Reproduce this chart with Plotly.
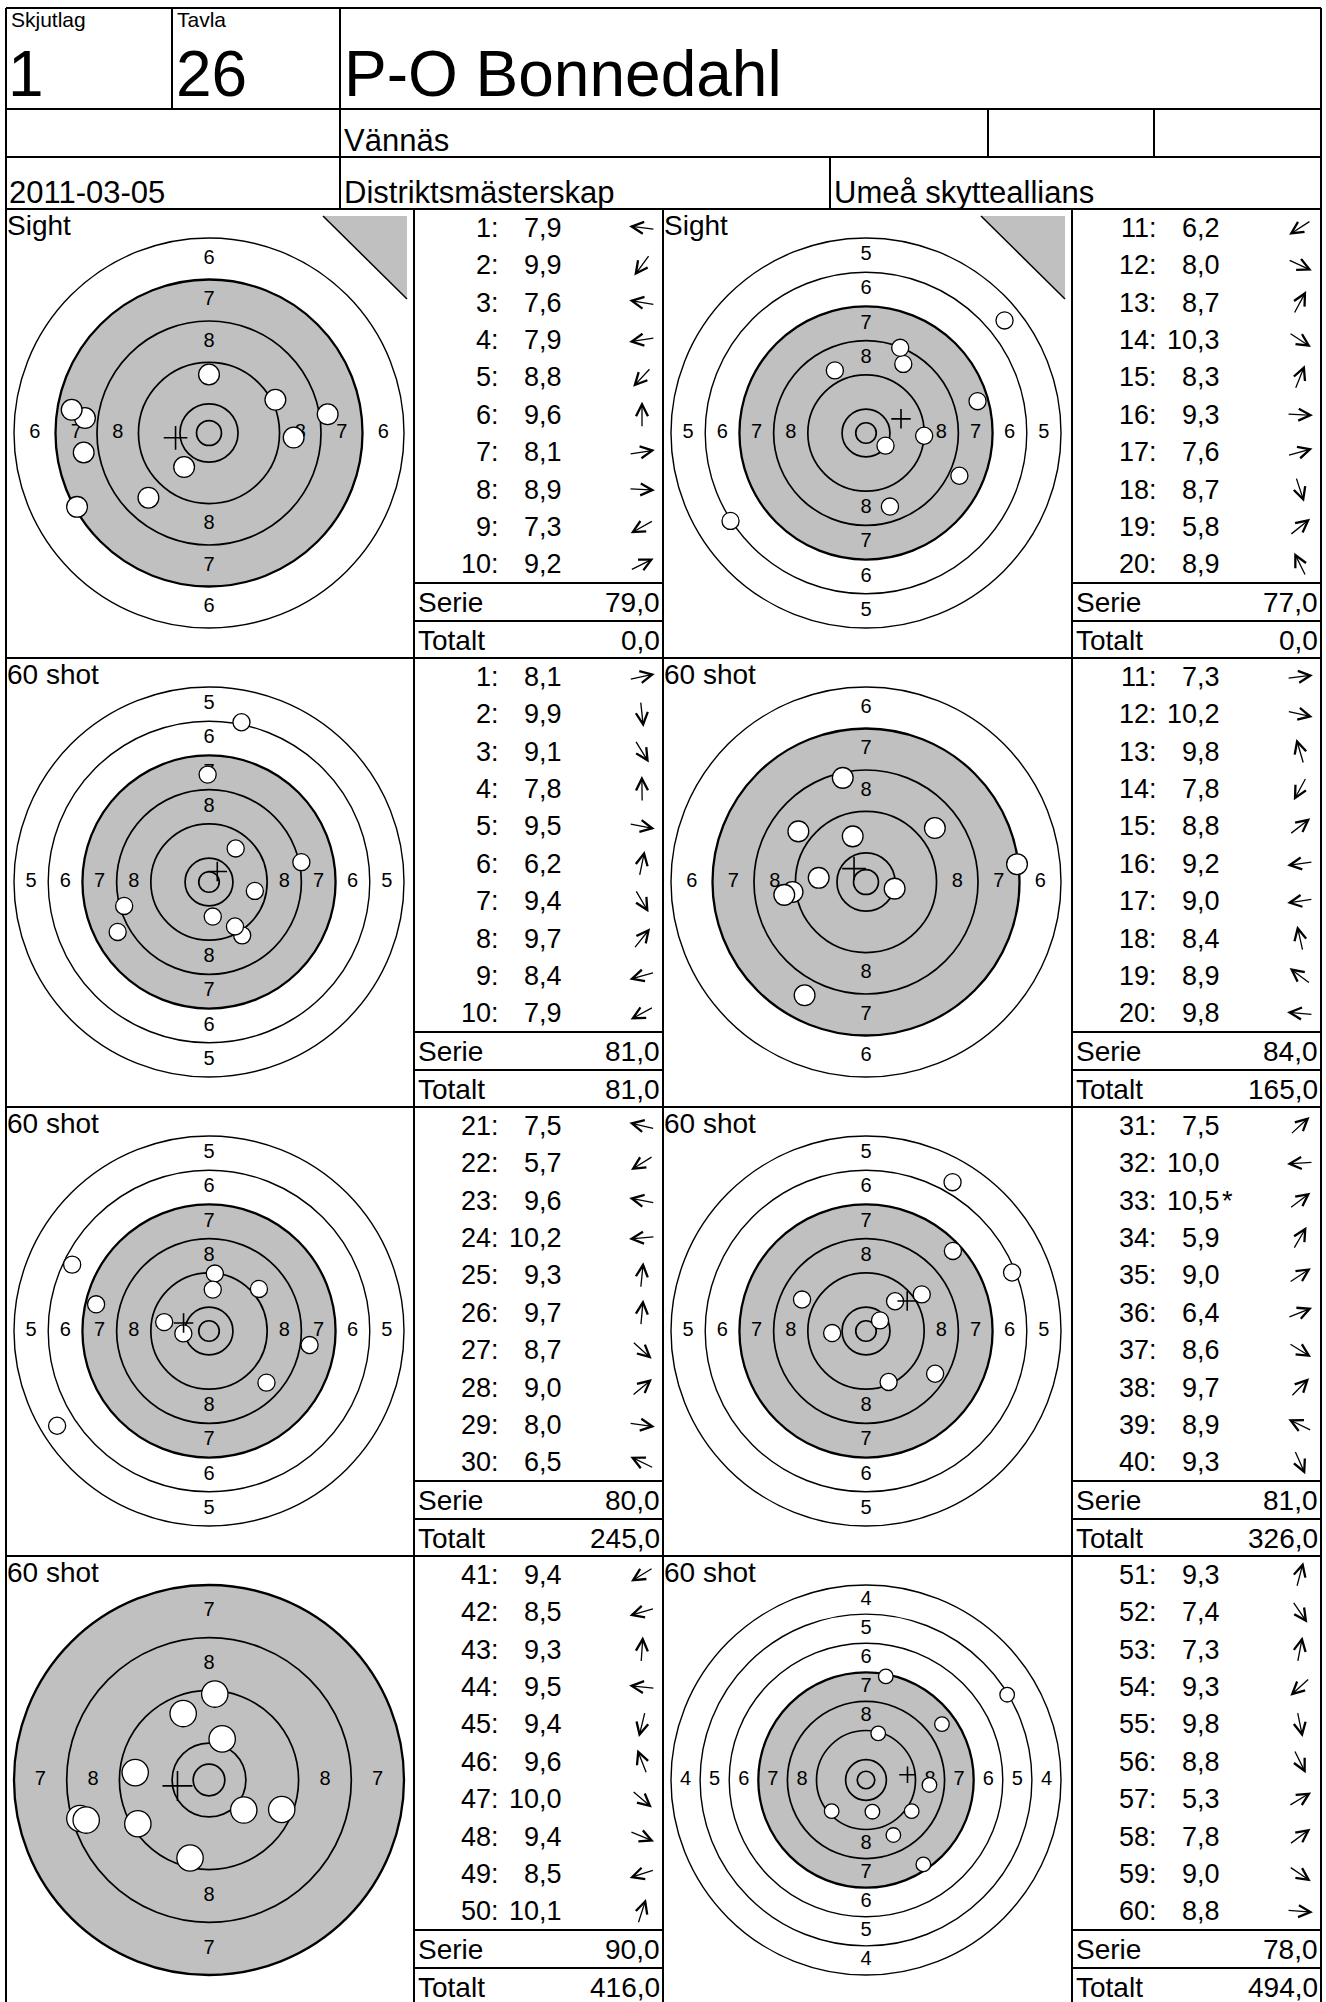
import math
import plotly.graph_objects as go

W, H = 1326, 2002
FONT = "Liberation Sans, Arial, Helvetica, sans-serif"
GRAY = "#c0c0c0"

# ---------------- data ----------------
header_small_labels = ["Skjutlag", "Tavla"]
shooting_group = "1"
target_lane = "26"
shooter_name = "P-O Bonnedahl"
shooter_town = "Vännäs"
match_date = "2011-03-05"
competition = "Distriktsmästerskap"
club_name = "Umeå skytteallians"

series_titles = ["Sight", "Sight", "60 shot", "60 shot", "60 shot", "60 shot", "60 shot", "60 shot"]
series_first_shot = [1, 11, 1, 11, 21, 31, 41, 51]
series_lowest_ring = [6, 5, 5, 6, 5, 5, 7, 4]
series_counts = [False, False, True, True, True, True, True, True]

scores_s1 = [7.9, 9.9, 7.6, 7.9, 8.8, 9.6, 8.1, 8.9, 7.3, 9.2]
scores_s2 = [6.2, 8.0, 8.7, 10.3, 8.3, 9.3, 7.6, 8.7, 5.8, 8.9]
scores_s3 = [8.1, 9.9, 9.1, 7.8, 9.5, 6.2, 9.4, 9.7, 8.4, 7.9]
scores_s4 = [7.3, 10.2, 9.8, 7.8, 8.8, 9.2, 9.0, 8.4, 8.9, 9.8]
scores_s5 = [7.5, 5.7, 9.6, 10.2, 9.3, 9.7, 8.7, 9.0, 8.0, 6.5]
scores_s6 = [7.5, 10.0, 10.5, 5.9, 9.0, 6.4, 8.6, 9.7, 8.9, 9.3]
scores_s7 = [9.4, 8.5, 9.3, 9.5, 9.4, 9.6, 10.0, 9.4, 8.5, 10.1]
scores_s8 = [9.3, 7.4, 7.3, 9.3, 9.8, 8.8, 5.3, 7.8, 9.0, 8.8]
inner_ten = [(5, 2)]  # (series index, shot index) marked with *

# shot positions in ring units (x right, y up), in shot order
x_s1 = [-2.99, -0.60, -3.31, -3.02, -1.46, 0.00, 2.86, 2.04, -3.18, 1.60]
y_s1 = [0.36, -0.82, 0.56, -0.47, -1.56, 1.41, 0.45, -0.11, -1.78, 0.80]
x_s2 = [-3.96, 2.73, 1.09, 0.57, 1.00, 1.70, 3.26, 0.70, 4.05, -0.91]
y_s2 = [-2.57, -1.25, 2.02, -0.37, 2.49, -0.08, 0.93, -2.15, 3.29, 1.83]
x_s3 = [2.70, 0.11, 0.97, -0.04, 1.34, 0.95, 0.76, 0.78, -2.48, -2.67]
y_s3 = [0.58, -1.01, -1.56, 3.14, -0.26, 4.67, -1.30, 0.98, -0.70, -1.46]
x_s4 = [3.64, 0.69, -0.32, -1.48, 1.66, -1.77, -1.97, -0.56, -1.63, -1.14]
y_s4 = [0.43, -0.16, 1.10, -2.73, 1.30, -0.24, -0.31, 2.51, 1.22, 0.10]
x_s5 = [-3.30, -4.44, -1.31, -0.75, 0.17, 0.11, 1.68, 1.46, 2.94, -4.00]
y_s5 = [0.78, -2.77, 0.26, -0.07, 1.68, 1.21, -1.51, 1.23, -0.41, 1.94]
x_s6 = [2.54, -0.99, 0.41, 2.53, 1.63, 4.27, 2.02, 0.85, -1.87, 0.66]
y_s6 = [2.34, -0.06, 0.31, 4.35, 1.07, 1.71, -1.25, 0.87, 0.92, -1.49]
x_s7 = [-1.35, -2.45, 0.11, -1.40, -0.36, -0.49, 0.66, 1.38, -2.33, 0.25]
y_s7 = [-0.83, -0.73, 1.63, 0.14, -1.48, 1.26, -0.57, -0.56, -0.76, 0.78]
x_s8 = [0.42, 1.97, 0.68, -1.18, 0.22, 0.94, 4.85, 2.61, 1.57, 2.18]
y_s8 = [1.60, -2.90, 3.56, -1.07, -1.09, -1.89, 2.93, 1.92, -1.07, -0.17]

all_scores = [scores_s1, scores_s2, scores_s3, scores_s4, scores_s5, scores_s6, scores_s7, scores_s8]
all_x = [x_s1, x_s2, x_s3, x_s4, x_s5, x_s6, x_s7, x_s8]
all_y = [y_s1, y_s2, y_s3, y_s4, y_s5, y_s6, y_s7, y_s8]

# ---------------- layout constants ----------------
LEFT, RIGHT, TOP = 6, 1321, 8
ROW1_B, ROW2_B = 109, 157
panel_tops = [209, 658, 1107, 1556]
panel_lefts = [6, 663]
table_lefts = [414, 1072]
table_rights = [663, 1321]
target_cx = [209, 866]
TARGET_DY = 224
R_PX = 195.0
HS = 206.0
RING_EDGE = 10.7   # ring n outer edge radius = RING_EDGE - n
HOLE_D = 0.5
CROSS_W = 0.57
ROW_H = 37.4
ARROW_L = 26


def fmt(v):
    return f"{v:.1f}".replace(".", ",")


fig = go.Figure()
shapes = []
annotations = []
layout_axes = {}

layout_axes["xaxis"] = dict(domain=[0, 1], range=[0, W], visible=False, fixedrange=True)
layout_axes["yaxis"] = dict(domain=[0, 1], range=[H, 0], visible=False, fixedrange=True)
fig.add_trace(go.Scatter(x=[0], y=[0], mode="markers", marker=dict(opacity=0),
                         hoverinfo="skip", showlegend=False, xaxis="x", yaxis="y"))


def text(x, y, s, size, xanchor="left"):
    annotations.append(dict(x=x, y=y, xref="x", yref="y", text=s, showarrow=False,
                            xanchor=xanchor, yanchor="middle", borderpad=0,
                            font=dict(family=FONT, size=size, color="black")))


def line(x0, y0, x1, y1, w=2.0):
    shapes.append(dict(type="line", xref="x", yref="y", x0=x0, y0=y0, x1=x1, y1=y1,
                       line=dict(color="black", width=w), layer="above"))


# ---------------- grid ----------------
for yy in [TOP, ROW1_B, ROW2_B] + panel_tops:
    line(LEFT, yy, RIGHT, yy)
line(LEFT, TOP, LEFT, H + 5)
line(RIGHT, TOP, RIGHT, H + 5)
line(172, TOP, 172, ROW1_B)
line(340, TOP, 340, panel_tops[0])
line(988, ROW1_B, 988, ROW2_B)
line(1154, ROW1_B, 1154, ROW2_B)
line(830, ROW2_B, 830, panel_tops[0])
for xx in table_lefts + [663]:
    line(xx, panel_tops[0], xx, H + 5)
for pt in panel_tops:
    for c in range(2):
        line(table_lefts[c], pt + 374, table_rights[c], pt + 374)
        line(table_lefts[c], pt + 412, table_rights[c], pt + 412)

# ---------------- header texts ----------------
text(10, 19, header_small_labels[0], 21)
text(176, 19, header_small_labels[1], 21)
text(7, 74, shooting_group, 64)
text(175, 74, target_lane, 64)
text(343, 74, shooter_name, 64)
text(343, 140, shooter_town, 31)
text(8, 192, match_date, 31)
text(343, 192, competition, 31)
text(833, 192, club_name, 31)

# ---------------- panels ----------------
running = 0
for idx in range(8):
    row, col = idx // 2, idx % 2
    pt = panel_tops[row]
    cx = target_cx[col]
    cy = pt + TARGET_DY
    lowest = series_lowest_ring[idx]
    s = R_PX / (RING_EDGE - lowest)
    n_ax = idx + 2
    xa, ya = f"x{n_ax}", f"y{n_ax}"
    layout_axes[f"xaxis{n_ax}"] = dict(domain=[(cx - HS) / W, (cx + HS) / W],
                                       range=[-HS / s, HS / s], anchor=ya,
                                       visible=False, fixedrange=True)
    layout_axes[f"yaxis{n_ax}"] = dict(domain=[(H - cy - HS) / H, (H - cy + HS) / H],
                                       range=[-HS / s, HS / s], anchor=xa,
                                       visible=False, fixedrange=True)
    # rings
    for n in range(lowest, 11):
        r = RING_EDGE - n
        if n == 7:
            fill, lw = GRAY, 2.3
        elif n < 7:
            fill, lw = "white", 1.4
        else:
            fill, lw = "rgba(0,0,0,0)", 1.7
        shapes.append(dict(type="circle", xref=xa, yref=ya, x0=-r, y0=-r, x1=r, y1=r,
                           fillcolor=fill, line=dict(color="black", width=lw), layer="below"))
    rx = 0.3
    shapes.append(dict(type="circle", xref=xa, yref=ya, x0=-rx, y0=-rx, x1=rx, y1=rx,
                       fillcolor="rgba(0,0,0,0)", line=dict(color="black", width=1.7), layer="below"))
    # ring labels
    lx, ly, lt = [], [], []
    for n in range(lowest, 9):
        d = RING_EDGE - n - 0.5
        for px_, py_ in [(0, d), (0, -d), (-d, 0), (d, 0)]:
            lx.append(px_); ly.append(py_); lt.append(str(n))
    fig.add_trace(go.Scatter(x=lx, y=ly, text=lt, mode="text", textposition="middle center",
                             textfont=dict(family=FONT, size=20, color="black"),
                             hoverinfo="skip", showlegend=False, xaxis=xa, yaxis=ya))
    # holes
    xs, ys = all_x[idx], all_y[idx]
    for i in range(len(xs)):
        fig.add_trace(go.Scatter(x=[xs[i]], y=[ys[i]], mode="markers",
                                 marker=dict(size=HOLE_D * s, color="white",
                                             line=dict(color="black", width=1.3)),
                                 hoverinfo="skip", showlegend=False, xaxis=xa, yaxis=ya))
    # mean point of impact
    mx, my = sum(xs) / len(xs), sum(ys) / len(ys)
    fig.add_trace(go.Scatter(x=[mx], y=[my], mode="markers",
                             marker=dict(symbol="cross-thin", size=CROSS_W * s / 1.4,
                                         line=dict(color="black", width=1.6)),
                             hoverinfo="skip", showlegend=False, xaxis=xa, yaxis=ya))

    # panel title
    text(panel_lefts[col], pt + 16, series_titles[idx], 28)
    # sight triangle
    if series_titles[idx] == "Sight":
        tr = table_lefts[col] - 7
        shapes.append(dict(type="path", xref="x", yref="y",
                           path=f"M{tr - 84},{pt + 7} L{tr},{pt + 7} L{tr},{pt + 90} Z",
                           fillcolor=GRAY, line=dict(width=0), layer="above"))
        line(tr - 84, pt + 7, tr, pt + 90, 1.5)

    # table
    tl = table_lefts[col]
    scores = all_scores[idx]
    for k, v in enumerate(scores):
        yc = pt + (k + 0.5) * ROW_H
        text(tl + 86, yc, f"{series_first_shot[idx] + k}:", 27, "right")
        text(tl + 149, yc, fmt(v), 27, "right")
        if (idx, k) in inner_ten:
            text(tl + 149, yc, "*", 27, "left")
        ang = math.atan2(ys[k], xs[k])
        c_x, c_y = tl + 228, yc
        hx = c_x + ARROW_L / 2 * math.cos(ang)
        hy = c_y - ARROW_L / 2 * math.sin(ang)
        annotations.append(dict(x=hx, y=hy, xref="x", yref="y", text="", showarrow=True,
                                ax=-ARROW_L * math.cos(ang), ay=ARROW_L * math.sin(ang),
                                arrowhead=5, arrowsize=1.8, arrowwidth=1.3,
                                arrowcolor="black", standoff=0))
    serie = sum(int(math.floor(v + 1e-9)) for v in scores)
    if series_counts[idx]:
        running += serie
        total = running
    else:
        total = 0
    text(tl + 3, pt + 393, "Serie", 28)
    text(tl + 247, pt + 393, fmt(serie), 28, "right")
    text(tl + 3, pt + 431, "Totalt", 28)
    text(tl + 247, pt + 431, fmt(total), 28, "right")

fig.update_layout(width=W, height=H, margin=dict(l=0, r=0, t=0, b=0),
                  paper_bgcolor="white", plot_bgcolor="rgba(0,0,0,0)",
                  showlegend=False, shapes=shapes, annotations=annotations, **layout_axes)
fig.write_html("out.html", config={"displayModeBar": False},
               post_script="document.body.style.margin='0px';document.body.style.overflow='hidden';")
